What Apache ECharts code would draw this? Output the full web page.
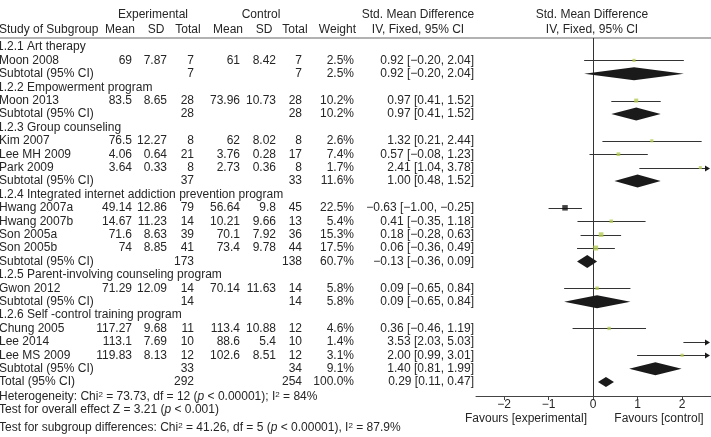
<!DOCTYPE html>
<html>
<head>
<meta charset="utf-8">
<script src="https://cdn.jsdelivr.net/npm/echarts@6/dist/echarts.min.js"></script>
<style>
  html, body { margin: 0; padding: 0; background: #fff; }
  #chart { width: 711px; height: 437px; }
</style>
</head>
<body>
<div id="chart"></div>
<script>
// rows of the table, top to bottom
var rowLabels = [
    '1.2.1 Art therapy', 'Moon 2008', 'Subtotal (95% CI)',
    '1.2.2 Empowerment program', 'Moon 2013', 'Subtotal (95% CI)',
    '1.2.3 Group counseling', 'Kim 2007', 'Lee MH 2009', 'Park 2009', 'Subtotal (95% CI)',
    '1.2.4 Integrated internet addiction prevention program', 'Hwang 2007a', 'Hwang 2007b', 'Son 2005a', 'Son 2005b', 'Subtotal (95% CI)',
    '1.2.5 Parent-involving counseling program', 'Gwon 2012', 'Subtotal (95% CI)',
    '1.2.6 Self -control training program', 'Chung 2005', 'Lee 2014', 'Lee MS 2009', 'Subtotal (95% CI)',
    'Total (95% CI)'
];
// g = group heading, s = study, t = subtotal, T = total
var rowType = ['g','s','t', 'g','s','t', 'g','s','s','s','t', 'g','s','s','s','s','t', 'g','s','t', 'g','s','s','s','t', 'T'];

var expMean = [null,69,null, null,83.5,null, null,76.5,4.06,3.64,null, null,49.14,14.67,71.6,74,null, null,71.29,null, null,117.27,113.1,119.83,null, null];
var expSD   = [null,7.87,null, null,8.65,null, null,12.27,0.64,0.33,null, null,12.86,11.23,8.63,8.85,null, null,12.09,null, null,9.68,7.69,8.13,null, null];
var expN    = [null,7,7, null,28,28, null,8,21,8,37, null,79,14,39,41,173, null,14,14, null,11,10,12,33, 292];
var ctlMean = [null,61,null, null,73.96,null, null,62,3.76,2.73,null, null,56.64,10.21,70.1,73.4,null, null,70.14,null, null,113.4,88.6,102.6,null, null];
var ctlSD   = [null,8.42,null, null,10.73,null, null,8.02,0.28,0.36,null, null,9.8,9.66,7.92,9.78,null, null,11.63,null, null,10.88,5.4,8.51,null, null];
var ctlN    = [null,7,7, null,28,28, null,8,17,8,33, null,45,13,36,44,138, null,14,14, null,12,10,12,34, 254];
var weight  = [null,2.5,2.5, null,10.2,10.2, null,2.6,7.4,1.7,11.6, null,22.5,5.4,15.3,17.5,60.7, null,5.8,5.8, null,4.6,1.4,3.1,9.1, 100.0];
var smd     = [null,0.92,0.92, null,0.97,0.97, null,1.32,0.57,2.41,1.00, null,-0.63,0.41,0.18,0.06,-0.13, null,0.09,0.09, null,0.36,3.53,2.00,1.40, 0.29];
var ciLow   = [null,-0.20,-0.20, null,0.41,0.41, null,0.21,-0.08,1.04,0.48, null,-1.00,-0.35,-0.28,-0.36,-0.36, null,-0.65,-0.65, null,-0.46,2.03,0.99,0.81, 0.11];
var ciHigh  = [null,2.04,2.04, null,1.52,1.52, null,2.44,1.23,3.78,1.52, null,-0.25,1.18,0.63,0.49,0.09, null,0.84,0.84, null,1.19,5.03,3.01,1.99, 0.47];

var xTicks = [-2, -1, 0, 1, 2];
var noEffect = 0;
var xMin = -2.63, xMax = 2.65;
var yMin = -0.67, yMax = 26.04;

var FONT = 'Liberation Sans, Arial, sans-serif';
var TXT = '#262626';
var GREEN = '#b3cc52';

function minus(s) { return String(s).replace(/-/g, '\u2212'); }

var studyPts = [], ciLines = [], diamonds = [];
rowType.forEach(function (t, r) {
    if (t === 's') {
        studyPts.push({
            value: [smd[r], r],
            symbolSize: 2.8 + weight[r] * 0.12,
            itemStyle: { color: weight[r] > 20 ? '#111' : GREEN }
        });
        ciLines.push([r, ciLow[r], ciHigh[r]]);
    } else if (t === 't' || t === 'T') {
        diamonds.push([r, smd[r], ciLow[r], ciHigh[r], t === 'T' ? 5 : 6.5]);
    }
});

var chart = echarts.init(document.getElementById('chart'));

var option = {
    animation: false,
    grid: { left: 476, width: 235, top: 38, height: 358, outerBoundsMode: 'none', containLabel: false },
    xAxis: {
        type: 'value', min: xMin, max: xMax,
        splitLine: { show: false },
        axisLine: { onZero: false, lineStyle: { color: '#444', width: 1 } },
        axisTick: { show: true, length: 4, customValues: xTicks, lineStyle: { color: '#444' } },
        axisLabel: {
            customValues: xTicks, margin: 3, color: TXT, fontSize: 12, fontFamily: FONT,
            formatter: function (v) { return minus(v); }
        }
    },
    yAxis: {
        type: 'value', inverse: true, min: yMin, max: yMax,
        show: false
    },
    series: [
        {
            // line of no effect
            type: 'custom',
            clip: false,
            silent: true,
            data: [[noEffect, yMin, yMax]],
            renderItem: function (params, api) {
                var a = api.coord([api.value(0), api.value(1)]);
                var b = api.coord([api.value(0), api.value(2)]);
                var x = Math.round(a[0]) + 0.5;
                return {
                    type: 'line',
                    shape: { x1: x, y1: a[1], x2: x, y2: b[1] },
                    style: { stroke: '#333', lineWidth: 1 }
                };
            }
        },
        {
            type: 'custom',
            clip: false,
            data: ciLines,
            renderItem: function (params, api) {
                var r = api.value(0), lo = api.value(1), hi = api.value(2);
                var p1 = api.coord([Math.max(lo, xMin), r]);
                var p2 = api.coord([Math.min(hi, xMax), r]);
                var y = Math.round(p1[1]) + 0.5;
                var kids = [{
                    type: 'line',
                    shape: { x1: p1[0], y1: y, x2: p2[0] - (hi > xMax ? 4 : 0), y2: y },
                    style: { stroke: '#333', lineWidth: 1 }
                }];
                if (hi > xMax) {
                    kids.push({
                        type: 'polygon',
                        shape: { points: [[p2[0] - 1, y], [p2[0] - 6, y - 3], [p2[0] - 6, y + 3]] },
                        style: { fill: '#1a1a1a' }
                    });
                }
                return { type: 'group', children: kids };
            }
        },
        {
            type: 'scatter',
            symbol: 'rect',
            data: studyPts,
            z: 5
        },
        {
            type: 'custom',
            data: diamonds,
            renderItem: function (params, api) {
                var r = api.value(0);
                var c = api.coord([api.value(1), r]);
                var l = api.coord([api.value(2), r]);
                var h = api.coord([api.value(3), r]);
                var hh = api.value(4);
                return {
                    type: 'polygon',
                    shape: { points: [[l[0], c[1]], [c[0], c[1] - hh], [h[0], c[1]], [c[0], c[1] + hh]] },
                    style: { fill: '#1a1a1a' }
                };
            }
        }
    ]
};
chart.setOption(option);

// table text, placed on the same row scale as the plot
function rowY(r) { return chart.convertToPixel({ gridIndex: 0 }, [0, r])[1]; }
function txt(s, x, y, align, extra) {
    var st = { text: s, x: 0, y: 0, fill: TXT, fontSize: 12, fontFamily: FONT, align: align || 'left', verticalAlign: 'middle' };
    if (extra) for (var k in extra) st[k] = extra[k];
    return { type: 'text', x: x, y: y, silent: true, style: st };
}

var els = [];
// header
els.push(txt('Experimental', 153, 15, 'center'));
els.push(txt('Control', 261, 15, 'center'));
els.push(txt('Std. Mean Difference', 418, 15, 'center'));
els.push(txt('Std. Mean Difference', 592, 15, 'center'));
els.push(txt('Study of Subgroup', -1, 30, 'left'));
els.push(txt('Mean', 120, 30, 'center'));
els.push(txt('SD', 156, 30, 'center'));
els.push(txt('Total', 188, 30, 'center'));
els.push(txt('Mean', 228, 30, 'center'));
els.push(txt('SD', 264, 30, 'center'));
els.push(txt('Total', 295, 30, 'center'));
els.push(txt('Weight', 356, 30, 'right'));
els.push(txt('IV, Fixed, 95% CI', 418, 30, 'center'));
els.push(txt('IV, Fixed, 95% CI', 592, 30, 'center'));
els.push({ type: 'line', silent: true, shape: { x1: 0, y1: 38, x2: 711, y2: 38 }, style: { stroke: '#999', lineWidth: 1.5 } });

var cols = [
    [expMean, 132], [expSD, 167], [expN, 194],
    [ctlMean, 240], [ctlSD, 276], [ctlN, 302]
];
rowLabels.forEach(function (lab, r) {
    var y = rowY(r);
    els.push(txt(lab, rowType[r] === 'g' ? -3 : -1, y, 'left'));
    if (rowType[r] === 'g') return;
    cols.forEach(function (c) {
        if (c[0][r] !== null) els.push(txt(String(c[0][r]), c[1], y, 'right'));
    });
    els.push(txt(weight[r].toFixed(1) + '%', 354, y, 'right'));
    els.push(txt(minus(smd[r].toFixed(2) + ' [' + ciLow[r].toFixed(2) + ', ' + ciHigh[r].toFixed(2) + ']'), 474, y, 'right'));
});

// footer statistics
var rich = {
    n: { fontSize: 12, fontFamily: FONT, fill: TXT },
    i: { fontSize: 12, fontFamily: FONT, fill: TXT, fontStyle: 'italic' },
    s: { fontSize: 8, fontFamily: FONT, fill: TXT, verticalAlign: 'top' }
};
els.push(txt('{n|Heterogeneity: Chi}{s|2}{n| = 73.73, df = 12 (}{i|p}{n| < 0.00001); I}{s|2}{n| = 84%}', -1, 397, 'left', { rich: rich }));
els.push(txt('{n|Test for overall effect Z = 3.21 (}{i|p}{n| < 0.001)}', -1, 410, 'left', { rich: rich }));
els.push(txt('{n|Test for subgroup differences: Chi}{s|2}{n| = 41.26, df = 5 (}{i|p}{n| < 0.00001), I}{s|2}{n| = 87.9%}', -1, 428, 'left', { rich: rich }));

els.push(txt('Favours [experimental]', 526, 419, 'center'));
els.push(txt('Favours [control]', 659, 419, 'center'));

chart.setOption({ graphic: { elements: els } });
</script>
</body>
</html>
